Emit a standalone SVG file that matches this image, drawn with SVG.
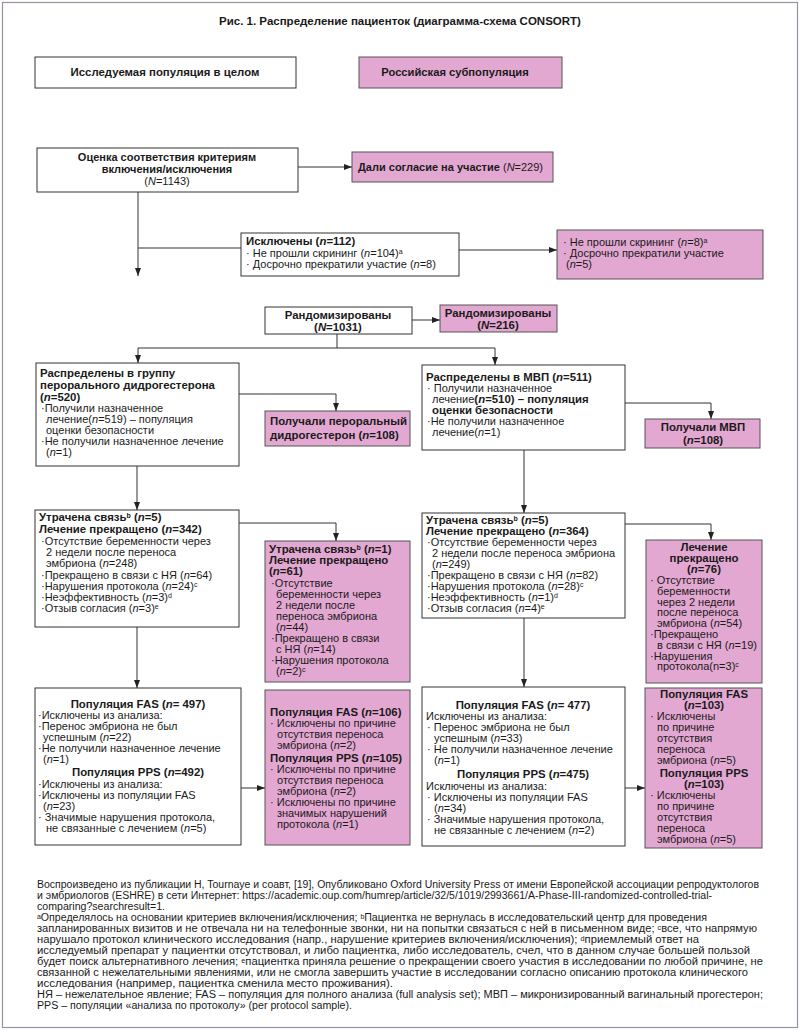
<svg xmlns="http://www.w3.org/2000/svg" width="800" height="1032" viewBox="0 0 800 1032">
<defs>
<style>
.t{font-family:"Liberation Sans",Arial,sans-serif;font-size:11px;fill:#1a1a1a}
.b{font-weight:bold;font-size:11.4px}
.s{font-size:11px}
.i{font-style:italic}
.c{text-anchor:middle}
.sup{font-size:7px;baseline-shift:3px}
.fs{font-size:6.5px;baseline-shift:2.5px}
.f{font-family:"Liberation Sans",Arial,sans-serif;font-size:10px;fill:#1a1a1a}
.box{fill:#fff;stroke:#333;stroke-width:1}
.pink{fill:#e3a8d1;stroke:#555;stroke-width:1}
.ln{fill:none;stroke:#333;stroke-width:1}
</style>
<marker id="ar" viewBox="0 0 8 6" refX="8" refY="3" markerWidth="8" markerHeight="6" markerUnits="userSpaceOnUse" orient="auto">
<path d="M0,0 L8,3 L0,6 z" fill="#222"/>
</marker>
</defs>
<rect x="0" y="0" width="800" height="1032" fill="#fff"/>
<rect x="2.5" y="2.5" width="795" height="1025" fill="none" stroke="#9b8fa0" stroke-width="1.2"/>
<text class="t b c" x="400" y="25" style="font-size:11.5px">Рис. 1. Распределение пациенток (диаграмма-схема CONSORT)</text>

<g id="connectors">
<path class="ln" d="M298,167 H352" marker-end="url(#ar)"/>
<path class="ln" d="M138,192 V276" marker-end="url(#ar)"/>
<path class="ln" d="M138,248 H241"/>
<path class="ln" d="M459,250 H557" marker-end="url(#ar)"/>
<path class="ln" d="M412,320 H440" marker-end="url(#ar)"/>
<path class="ln" d="M337,334 V348"/>
<path class="ln" d="M138,348 H495"/>
<path class="ln" d="M138,348 V363" marker-end="url(#ar)"/>
<path class="ln" d="M495,348 V365" marker-end="url(#ar)"/>
<path class="ln" d="M239,394 H336 V411" marker-end="url(#ar)"/>
<path class="ln" d="M625,403 H711 V419" marker-end="url(#ar)"/>
<path class="ln" d="M137,466 V510" marker-end="url(#ar)"/>
<path class="ln" d="M524,450 V513" marker-end="url(#ar)"/>
<path class="ln" d="M239,523 H336 V541" marker-end="url(#ar)"/>
<path class="ln" d="M625,524 H711 V540" marker-end="url(#ar)"/>
<path class="ln" d="M137,627 V688" marker-end="url(#ar)"/>
<path class="ln" d="M524,618 V687" marker-end="url(#ar)"/>
<path class="ln" d="M241,788 H265" marker-end="url(#ar)"/>
<path class="ln" d="M625,788 H645" marker-end="url(#ar)"/>
</g>

<g id="pop-all">
<rect class="box" x="35" y="57" width="261" height="31"/>
<text class="t b c" x="165" y="76" style="font-size:11.4px">Исследуемая популяция в целом</text>
</g>
<g id="pop-ru">
<rect class="pink" x="359" y="57" width="203" height="31"/>
<text class="t b c" x="455" y="76" style="font-size:11.2px">Российская субпопуляция</text>
</g>

<g id="screening">
<rect class="box" x="37" y="148" width="261" height="44"/>
<text class="t b c s" x="167" y="161">Оценка соответствия критериям</text>
<text class="t b c s" x="167" y="173">включения/исключения</text>
<text class="t c s" x="167" y="185">(<tspan class="i">N</tspan>=1143)</text>
</g>
<g id="consent">
<rect class="pink" x="352" y="152" width="201" height="30"/>
<text class="t s" x="358" y="171"><tspan class="b s">Дали согласие на участие</tspan> (<tspan class="i">N</tspan>=229)</text>
</g>

<g id="excluded">
<rect class="box" x="241" y="233" width="218" height="43"/>
<text class="t b" x="246" y="245">Исключены (<tspan class="i">n</tspan>=112)</text>
<text class="t" x="246" y="257">· Не прошли скрининг (<tspan class="i">n</tspan>=104)<tspan class="sup">a</tspan></text>
<text class="t" x="246" y="268">· Досрочно прекратили участие (<tspan class="i">n</tspan>=8)</text>
</g>
<g id="excluded-ru">
<rect class="pink" x="557" y="230" width="206" height="49"/>
<text class="t" x="563" y="246">· Не прошли скрининг (<tspan class="i">n</tspan>=8)<tspan class="sup">a</tspan></text>
<text class="t" x="563" y="257">· Досрочно прекратили участие</text>
<text class="t" x="566" y="268">(<tspan class="i">n</tspan>=5)</text>
</g>

<g id="randomized">
<rect class="box" x="265" y="307" width="147" height="27"/>
<text class="t b c" x="338" y="319">Рандомизированы</text>
<text class="t b c" x="338" y="331">(<tspan class="i">N</tspan>=1031)</text>
</g>
<g id="randomized-ru">
<rect class="pink" x="440" y="305" width="117" height="27"/>
<text class="t b c" x="498" y="317">Рандомизированы</text>
<text class="t b c" x="498" y="329">(<tspan class="i">N</tspan>=216)</text>
</g>

<g id="arm-dyd">
<rect class="box" x="36" y="363" width="203" height="103"/>
<text class="t b" x="40" y="377">Распределены в группу</text>
<text class="t b" x="40" y="389">перорального дидрогестерона</text>
<text class="t b" x="40" y="401">(<tspan class="i">n</tspan>=520)</text>
<text class="t" x="41" y="412">·Получили назначенное</text>
<text class="t" x="46" y="423">лечение(<tspan class="i">n</tspan>=519) – популяция</text>
<text class="t" x="46" y="434">оценки безопасности</text>
<text class="t" x="41" y="445">·Не получили назначенное лечение</text>
<text class="t" x="46" y="456">(<tspan class="i">n</tspan>=1)</text>
</g>
<g id="arm-dyd-ru">
<rect class="pink" x="265" y="411" width="145" height="35"/>
<text class="t b" x="270" y="425">Получали пероральный</text>
<text class="t b" x="270" y="439">дидрогестерон (<tspan class="i">n</tspan>=108)</text>
</g>

<g id="arm-mvp">
<rect class="box" x="422" y="365" width="203" height="85"/>
<text class="t b" x="426" y="381">Распределены в МВП (<tspan class="i">n</tspan>=511)</text>
<text class="t" x="427" y="392">· Получили назначенное</text>
<text class="t" x="432" y="403">лечение<tspan class="b">(<tspan class="i">n</tspan>=510) – популяция</tspan></text>
<text class="t b" x="432" y="414">оценки безопасности</text>
<text class="t" x="427" y="425">·Не получили назначенное</text>
<text class="t" x="432" y="436">лечение(<tspan class="i">n</tspan>=1)</text>
</g>
<g id="arm-mvp-ru">
<rect class="pink" x="645" y="419" width="115" height="29"/>
<text class="t b c" x="703" y="431">Получали МВП</text>
<text class="t b c" x="703" y="444">(<tspan class="i">n</tspan>=108)</text>
</g>

<g id="lost-dyd">
<rect class="box" x="35" y="510" width="204" height="117"/>
<text class="t b" x="39" y="521">Утрачена связь<tspan class="sup">b</tspan> (<tspan class="i">n</tspan>=5)</text>
<text class="t b" x="39" y="533">Лечение прекращено (<tspan class="i">n</tspan>=342)</text>
<text class="t" x="41" y="545">·Отсутствие беременности через</text>
<text class="t" x="46" y="556">2 недели после переноса</text>
<text class="t" x="46" y="567">эмбриона (<tspan class="i">n</tspan>=248)</text>
<text class="t" x="41" y="579">·Прекращено в связи с НЯ (<tspan class="i">n</tspan>=64)</text>
<text class="t" x="41" y="590">·Нарушения протокола (<tspan class="i">n</tspan>=24)<tspan class="sup">c</tspan></text>
<text class="t" x="41" y="601">·Неэффективность (<tspan class="i">n</tspan>=3)<tspan class="sup">d</tspan></text>
<text class="t" x="41" y="612">·Отзыв согласия (<tspan class="i">n</tspan>=3)<tspan class="sup">e</tspan></text>
</g>
<g id="lost-dyd-ru">
<rect class="pink" x="265" y="541" width="145" height="141"/>
<text class="t b" x="269" y="553">Утрачена связь<tspan class="sup">b</tspan> (<tspan class="i">n</tspan>=1)</text>
<text class="t b" x="269" y="564">Лечение прекращено</text>
<text class="t b" x="269" y="575">(<tspan class="i">n</tspan>=61)</text>
<text class="t" x="271" y="587">·Отсутствие</text>
<text class="t" x="276" y="598">беременности через</text>
<text class="t" x="276" y="609">2 недели после</text>
<text class="t" x="276" y="620">переноса эмбриона</text>
<text class="t" x="276" y="631">(<tspan class="i">n</tspan>=44)</text>
<text class="t" x="271" y="642">·Прекращено в связи</text>
<text class="t" x="276" y="653">с НЯ (<tspan class="i">n</tspan>=14)</text>
<text class="t" x="271" y="664">·Нарушения протокола</text>
<text class="t" x="276" y="675">(<tspan class="i">n</tspan>=2)<tspan class="sup">c</tspan></text>
</g>

<g id="lost-mvp">
<rect class="box" x="422" y="513" width="203" height="105"/>
<text class="t b" x="426" y="524">Утрачена связь<tspan class="sup">b</tspan> (<tspan class="i">n</tspan>=5)</text>
<text class="t b" x="426" y="535">Лечение прекращено (<tspan class="i">n</tspan>=364)</text>
<text class="t" x="427" y="546">·Отсутствие беременности через</text>
<text class="t" x="432" y="557">2 недели после переноса эмбриона</text>
<text class="t" x="432" y="568">(<tspan class="i">n</tspan>=249)</text>
<text class="t" x="427" y="579">·Прекращено в связи с НЯ (<tspan class="i">n</tspan>=82)</text>
<text class="t" x="427" y="590">·Нарушения протокола (<tspan class="i">n</tspan>=28)<tspan class="sup">c</tspan></text>
<text class="t" x="427" y="601">·Неэффективность (<tspan class="i">n</tspan>=1)<tspan class="sup">d</tspan></text>
<text class="t" x="427" y="612">·Отзыв согласия (<tspan class="i">n</tspan>=4)<tspan class="sup">e</tspan></text>
</g>
<g id="lost-mvp-ru">
<rect class="pink" x="646" y="540" width="116" height="143"/>
<text class="t b c" x="704" y="551">Лечение</text>
<text class="t b c" x="704" y="562">прекращено</text>
<text class="t b c" x="704" y="573">(<tspan class="i">n</tspan>=76)</text>
<text class="t" x="650" y="584">· Отсутствие</text>
<text class="t" x="657" y="594.8">беременности</text>
<text class="t" x="657" y="605.6">через 2 недели</text>
<text class="t" x="657" y="616.4">после переноса</text>
<text class="t" x="657" y="627.2">эмбриона (<tspan class="i">n</tspan>=54)</text>
<text class="t" x="650" y="638">·Прекращено</text>
<text class="t" x="657" y="648.8">в связи с НЯ (<tspan class="i">n</tspan>=19)</text>
<text class="t" x="650" y="659.6">·Нарушения</text>
<text class="t" x="657" y="670.4">протокола(n=3)<tspan class="sup">c</tspan></text>
</g>

<g id="fas-dyd">
<rect class="box" x="35" y="688" width="206" height="157"/>
<text class="t b c" x="138" y="708">Популяция FAS (<tspan class="i">n</tspan>= 497)</text>
<text class="t" x="38" y="719">·Исключены из анализа:</text>
<text class="t" x="38" y="730">·Перенос эмбриона не был</text>
<text class="t" x="43" y="741">успешным (<tspan class="i">n</tspan>=22)</text>
<text class="t" x="38" y="752">·Не получили назначенное лечение</text>
<text class="t" x="43" y="763">(<tspan class="i">n</tspan>=1)</text>
<text class="t b c" x="138" y="776">Популяция PPS (<tspan class="i">n</tspan>=492)</text>
<text class="t" x="38" y="788">·Исключены из анализа:</text>
<text class="t" x="38" y="799">·Исключены из популяции FAS</text>
<text class="t" x="43" y="810">(<tspan class="i">n</tspan>=23)</text>
<text class="t" x="38" y="821">· Значимые нарушения протокола,</text>
<text class="t" x="46" y="832">не связанные с лечением (<tspan class="i">n</tspan>=5)</text>
</g>
<g id="fas-dyd-ru">
<rect class="pink" x="265" y="690" width="145" height="155"/>
<text class="t b" x="270" y="716">Популяция FAS (<tspan class="i">n</tspan>=106)</text>
<text class="t" x="270" y="727">· Исключены по причине</text>
<text class="t" x="277" y="738">отсутствия переноса</text>
<text class="t" x="277" y="749">эмбриона (<tspan class="i">n</tspan>=2)</text>
<text class="t b" x="270" y="762">Популяция PPS (<tspan class="i">n</tspan>=105)</text>
<text class="t" x="270" y="773">· Исключены по причине</text>
<text class="t" x="277" y="784">отсутствия переноса</text>
<text class="t" x="277" y="795">эмбриона (<tspan class="i">n</tspan>=2)</text>
<text class="t" x="270" y="806">· Исключены по причине</text>
<text class="t" x="277" y="817">значимых нарушений</text>
<text class="t" x="277" y="828">протокола (<tspan class="i">n</tspan>=1)</text>
</g>

<g id="fas-mvp">
<rect class="box" x="422" y="687" width="203" height="159"/>
<text class="t b c" x="523" y="709">Популяция FAS (<tspan class="i">n</tspan>= 477)</text>
<text class="t" x="426" y="720">Исключены из анализа:</text>
<text class="t" x="427" y="731">· Перенос эмбриона не был</text>
<text class="t" x="434" y="742">успешным (<tspan class="i">n</tspan>=33)</text>
<text class="t" x="427" y="753">· Не получили назначенное лечение</text>
<text class="t" x="434" y="764">(<tspan class="i">n</tspan>=1)</text>
<text class="t b c" x="523" y="778">Популяция PPS (<tspan class="i">n</tspan>=475)</text>
<text class="t" x="426" y="790">Исключены из анализа:</text>
<text class="t" x="427" y="801">· Исключены из популяции FAS</text>
<text class="t" x="434" y="812">(<tspan class="i">n</tspan>=34)</text>
<text class="t" x="427" y="823">· Значимые нарушения протокола,</text>
<text class="t" x="434" y="834">не связанные с лечением (<tspan class="i">n</tspan>=2)</text>
</g>
<g id="fas-mvp-ru">
<rect class="pink" x="645" y="688" width="117" height="160"/>
<text class="t b c" x="704" y="698">Популяция FAS</text>
<text class="t b c" x="704" y="709">(<tspan class="i">n</tspan>=103)</text>
<text class="t" x="650" y="720">· Исключены</text>
<text class="t" x="657" y="731">по причине</text>
<text class="t" x="657" y="742">отсутствия</text>
<text class="t" x="657" y="753">переноса</text>
<text class="t" x="657" y="764">эмбриона (<tspan class="i">n</tspan>=5)</text>
<text class="t b c" x="704" y="777">Популяция PPS</text>
<text class="t b c" x="704" y="788">(<tspan class="i">n</tspan>=103)</text>
<text class="t" x="650" y="799">· Исключены</text>
<text class="t" x="657" y="810">по причине</text>
<text class="t" x="657" y="821">отсутствия</text>
<text class="t" x="657" y="832">переноса</text>
<text class="t" x="657" y="843">эмбриона (<tspan class="i">n</tspan>=5)</text>
</g>

<g id="footer">
<text class="f" x="37" y="888" textLength="722" lengthAdjust="spacingAndGlyphs">Воспроизведено из публикации H, Tournaye и соавт, [19], Опубликовано Oxford University Press от имени Европейской ассоциации репродуктологов</text>
<text class="f" x="37" y="899" textLength="675" lengthAdjust="spacingAndGlyphs">и эмбриологов (ESHRE) в сети Интернет: https://academic.oup.com/humrep/article/32/5/1019/2993661/A-Phase-III-randomized-controlled-trial-</text>
<text class="f" x="37" y="910" textLength="128" lengthAdjust="spacingAndGlyphs">comparing?searchresult=1.</text>
<text class="f" x="37" y="921" textLength="670" lengthAdjust="spacingAndGlyphs"><tspan class="fs">a</tspan>Определялось на основании критериев включения/исключения; <tspan class="fs">b</tspan>Пациентка не вернулась в исследовательский центр для проведения</text>
<text class="f" x="37" y="932" textLength="720" lengthAdjust="spacingAndGlyphs">запланированных визитов и не отвечала ни на телефонные звонки, ни на попытки связаться с ней в письменном виде; <tspan class="fs">c</tspan>все, что напрямую</text>
<text class="f" x="37" y="943" textLength="662" lengthAdjust="spacingAndGlyphs">нарушало протокол клинического исследования (напр., нарушение критериев включения/исключения); <tspan class="fs">d</tspan>приемлемый ответ на</text>
<text class="f" x="37" y="954" textLength="713" lengthAdjust="spacingAndGlyphs">исследуемый препарат у пациентки отсутствовал, и либо пациентка, либо исследователь, счел, что в данном случае большей пользой</text>
<text class="f" x="37" y="965" textLength="726" lengthAdjust="spacingAndGlyphs">будет поиск альтернативного лечения; <tspan class="fs">e</tspan>пациентка приняла решение о прекращении своего участия в исследовании по любой причине, не</text>
<text class="f" x="37" y="976" textLength="711" lengthAdjust="spacingAndGlyphs">связанной с нежелательными явлениями, или не смогла завершить участие в исследовании согласно описанию протокола клинического</text>
<text class="f" x="37" y="987" textLength="356" lengthAdjust="spacingAndGlyphs">исследования (например, пациентка сменила место проживания).</text>
<text class="f" x="37" y="998" textLength="726" lengthAdjust="spacingAndGlyphs">НЯ – нежелательное явление; FAS – популяция для полного анализа (full analysis set); МВП – микронизированный вагинальный прогестерон;</text>
<text class="f" x="37" y="1009" textLength="315" lengthAdjust="spacingAndGlyphs">PPS – популяции «анализа по протоколу» (per protocol sample).</text>
</g>
</svg>
